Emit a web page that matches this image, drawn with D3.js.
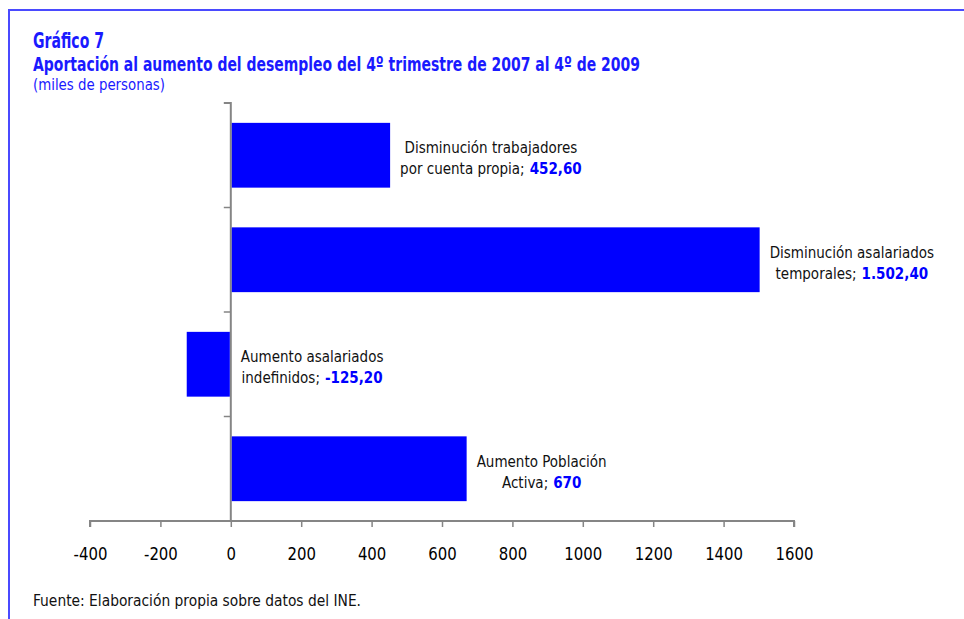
<!DOCTYPE html>
<html><head><meta charset="utf-8">
<script src="https://cdn.jsdelivr.net/npm/d3@7"></script>
<style>
body{margin:0;background:#fff;}
svg{display:block;}
text{font-family:"Liberation Sans Narrow","DejaVu Sans Condensed","Roboto",sans-serif;}
</style></head><body>
<svg id="c" width="964" height="619"></svg>
<script>
const categories = [
  ["Disminución trabajadores", "por cuenta propia;"],
  ["Disminución asalariados", "temporales;"],
  ["Aumento asalariados", "indefinidos;"],
  ["Aumento Población", "Activa;"]
];
const values = [452.6, 1502.4, -125.2, 670];
const valueLabels = ["452,60", "1.502,40", "-125,20", "670"];
const tickValues = [-400, -200, 0, 200, 400, 600, 800, 1000, 1200, 1400, 1600];

const svg = d3.select("#c");
const blue = "#0000ff";
const titleBlue = "#1a1aff";

// frame
svg.append("path").attr("d","M9,619 V10 H964").attr("fill","none").attr("stroke","#4a4aff").attr("stroke-width",2);

svg.append("text").attr("x",33).attr("y",48).attr("fill",titleBlue).attr("font-size",20.5).attr("font-weight","bold")
  .attr("textLength",71).attr("lengthAdjust","spacingAndGlyphs").text("Gráfico 7");
svg.append("text").attr("x",33).attr("y",70.5).attr("fill",titleBlue).attr("font-size",19.5).attr("font-weight","bold")
  .attr("textLength",607).attr("lengthAdjust","spacingAndGlyphs").text("Aportación al aumento del desempleo del 4º trimestre de 2007 al 4º de 2009");
svg.append("text").attr("x",33).attr("y",90).attr("fill",titleBlue).attr("font-size",15.5)
  .attr("textLength",132).attr("lengthAdjust","spacingAndGlyphs").text("(miles de personas)");

const x = d3.scaleLinear().domain([-400,1600]).range([90,794]);
const idx = d3.range(values.length);
const y = d3.scaleBand().domain(idx).range([103,521]).paddingInner(0.38).paddingOuter(0.19);

const axisColor = "#858585";
// x axis
const xa = svg.append("g").attr("transform","translate(0,521)")
  .call(d3.axisBottom(x).tickValues(tickValues).tickSize(6).tickSizeOuter(6).tickPadding(20).tickFormat(d3.format("d")));
xa.select(".domain").attr("stroke",axisColor).attr("stroke-width",2).attr("d","M90,6V0H794V6");
xa.selectAll(".tick line").attr("stroke",axisColor).attr("stroke-width",1.5);
xa.selectAll(".tick text").attr("fill","#000").attr("font-size",18).attr("font-family",'"Liberation Sans Narrow","DejaVu Sans Condensed",sans-serif')
  .text(d=>d).each(function(){ const w=this.getComputedTextLength(); d3.select(this).attr("textLength",w*0.92).attr("lengthAdjust","spacingAndGlyphs"); });

// y axis
const ya = svg.append("g").attr("transform",`translate(${x(0)},0)`)
  .call(d3.axisLeft(y).tickValues([]).tickSizeOuter(0));
ya.select(".domain").attr("stroke",axisColor).attr("stroke-width",2).attr("d","M-7,103H0V521");
const bounds = d3.range(values.length).map(i=>y(i)-y.step()*y.paddingInner()/2).filter((d,i)=>i>0);
ya.selectAll("line.bt").data(bounds).enter().append("line").attr("class","bt")
  .attr("x1",-7).attr("x2",0).attr("y1",d=>d).attr("y2",d=>d).attr("stroke",axisColor).attr("stroke-width",1.5);

// bars
svg.append("g").selectAll("rect").data(idx).enter().append("rect")
  .attr("x",i=>x(Math.min(0,values[i]))+(values[i]>0?1:0))
  .attr("width",i=>Math.abs(x(values[i])-x(0))-1)
  .attr("y",i=>y(i)).attr("height",y.bandwidth()).attr("fill",blue);

// labels
const lg = svg.append("g");
const fs = 15, gap = 5;
idx.forEach(i=>{
  const cy = y(i)+y.bandwidth()/2;
  const startX = (values[i]>0 ? x(values[i]) : x(0)) + 10;
  const g = lg.append("g");
  const t1 = g.append("text").attr("y",cy-2).attr("font-size",fs).attr("fill","#111").text(categories[i][0]);
  const t2a = g.append("text").attr("y",cy+19).attr("font-size",fs).attr("fill","#111").text(categories[i][1]);
  const t2b = g.append("text").attr("y",cy+19).attr("font-size",fs).attr("fill",blue).attr("font-weight","bold").text(valueLabels[i]);
  const w1 = t1.node().getComputedTextLength();
  const wa = t2a.node().getComputedTextLength();
  const wb = t2b.node().getComputedTextLength();
  const w2 = wa+gap+wb;
  const w = Math.max(w1,w2);
  const cx = startX + w/2;
  t1.attr("x",cx-w1/2);
  t2a.attr("x",cx-w2/2);
  t2b.attr("x",cx-w2/2+wa+gap);
});

svg.append("text").attr("x",33).attr("y",606).attr("font-size",15.5).attr("fill","#111")
  .attr("textLength",328).attr("lengthAdjust","spacingAndGlyphs").text("Fuente: Elaboración propia sobre datos del INE.");
</script>
</body></html>
